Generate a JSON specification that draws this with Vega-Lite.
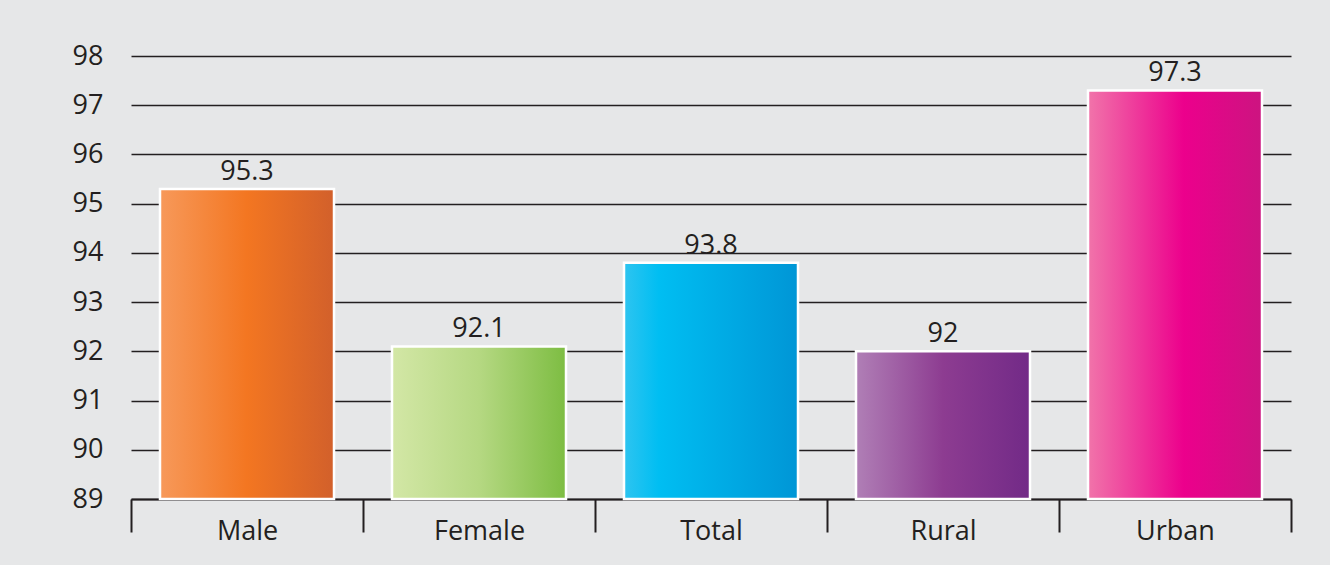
{
  "$schema": "https://vega.github.io/schema/vega-lite/v6.json",
  "autosize": {"type": "none"},
  "width": 1160,
  "height": 443,
  "padding": {"left": 131, "top": 56, "right": 39, "bottom": 66},
  "background": "#e6e7e8",
  "config": {
    "view": {"stroke": null},
    "font": "Open Sans",
    "axis": {"labelFont": "Open Sans", "labelFontSize": 27, "labelColor": "#231f20"}
  },
  "data": {
    "values": [
      {"group": "Male", "value": 95.3},
      {"group": "Female", "value": 92.1},
      {"group": "Total", "value": 93.8},
      {"group": "Rural", "value": 92.0},
      {"group": "Urban", "value": 97.3}
    ]
  },
  "encoding": {
    "x": {
      "field": "group",
      "type": "nominal",
      "sort": null,
      "scale": {"paddingInner": 0, "paddingOuter": 0},
      "axis": {
        "title": null,
        "labelAngle": 0,
        "tickBand": "extent",
        "tickSize": 33,
        "tickWidth": 2,
        "tickColor": "#231f20",
        "domainColor": "#231f20",
        "domainWidth": 2,
        "labelPadding": -14,
        "labelBaseline": "top"
      }
    },
    "y": {
      "field": "value",
      "type": "quantitative",
      "scale": {"domain": [89, 98], "zero": false, "nice": false},
      "axis": {
        "title": null,
        "values": [89, 90, 91, 92, 93, 94, 95, 96, 97, 98],
        "domain": false,
        "ticks": false,
        "grid": true,
        "gridColor": "#231f20",
        "gridWidth": 1.5,
        "labelPadding": 28
      }
    }
  },
  "layer": [
    {
      "mark": {"type": "bar", "stroke": "white", "strokeWidth": 2.5, "width": {"band": 0.75}},
      "encoding": {
        "y2": {"datum": 89},
        "fill": {
          "condition": [
            {"test": "datum.group === 'Male'", "value": {"gradient": "linear", "x1": 0, "y1": 0, "x2": 1, "y2": 0, "stops": [{"offset": 0, "color": "#f7995a"}, {"offset": 0.5, "color": "#f37621"}, {"offset": 1, "color": "#d2602b"}]}},
            {"test": "datum.group === 'Female'", "value": {"gradient": "linear", "x1": 0, "y1": 0, "x2": 1, "y2": 0, "stops": [{"offset": 0, "color": "#d3e7a6"}, {"offset": 0.5, "color": "#b5d882"}, {"offset": 1, "color": "#7dbd42"}]}},
            {"test": "datum.group === 'Total'", "value": {"gradient": "linear", "x1": 0, "y1": 0, "x2": 1, "y2": 0, "stops": [{"offset": 0, "color": "#2ec4f0"}, {"offset": 0.2, "color": "#00bef2"}, {"offset": 1, "color": "#0096d6"}]}},
            {"test": "datum.group === 'Rural'", "value": {"gradient": "linear", "x1": 0, "y1": 0, "x2": 1, "y2": 0, "stops": [{"offset": 0, "color": "#b07fb6"}, {"offset": 0.5, "color": "#8d3c91"}, {"offset": 1, "color": "#722a87"}]}}
          ],
          "value": {"gradient": "linear", "x1": 0, "y1": 0, "x2": 1, "y2": 0, "stops": [{"offset": 0, "color": "#f174aa"}, {"offset": 0.55, "color": "#ec008c"}, {"offset": 1, "color": "#cc1480"}]}
        }
      }
    },
    {
      "mark": {"type": "text", "baseline": "alphabetic", "dy": -9, "fontSize": 27, "color": "#231f20", "font": "Open Sans"},
      "encoding": {"text": {"field": "value", "type": "quantitative"}}
    }
  ]
}
